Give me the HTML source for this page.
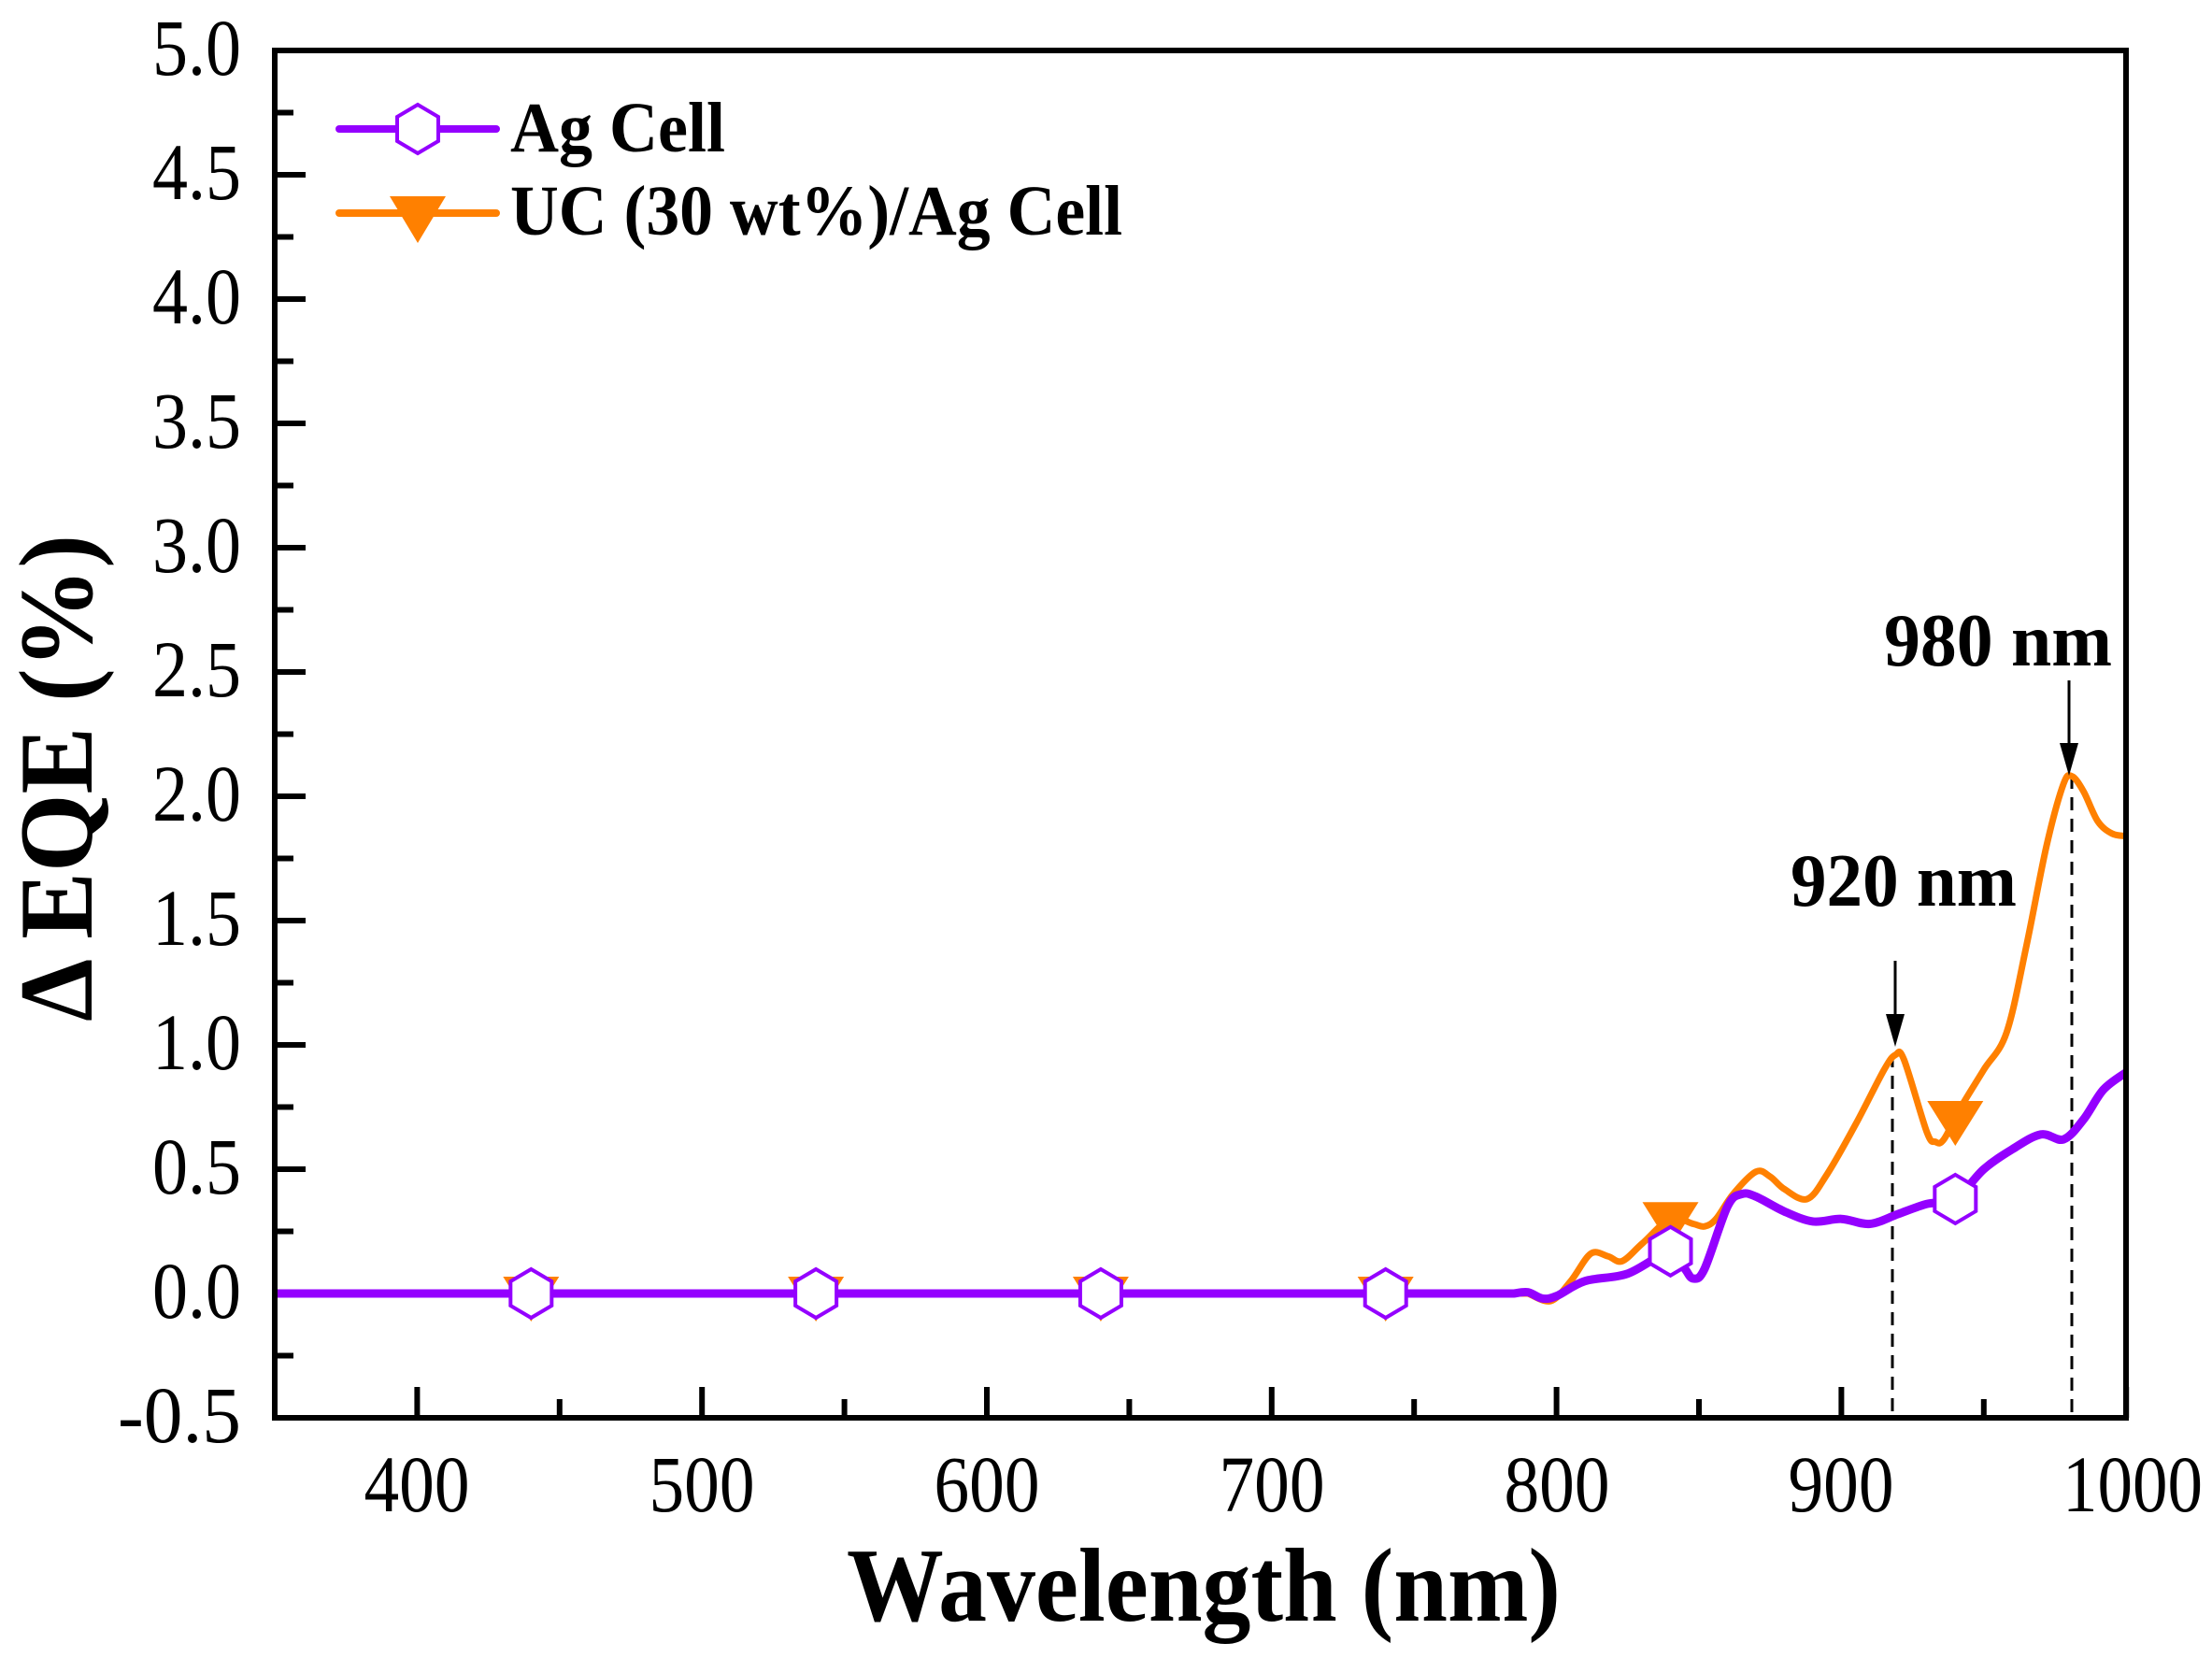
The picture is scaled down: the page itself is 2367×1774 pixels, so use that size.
<!DOCTYPE html>
<html><head><meta charset="utf-8"><style>
html,body{margin:0;padding:0;background:#fff;}
svg{display:block;}
text{font-family:"Liberation Serif",serif;fill:#000;}
.t{font-size:86px;}
.b{font-weight:bold;}
</style></head><body>
<svg id="s" width="2367" height="1774" viewBox="0 0 2367 1774" xmlns="http://www.w3.org/2000/svg">
<g id="ticks" stroke="#000" stroke-width="6"></g>
<line x1="2025" y1="1128" x2="2025" y2="1517" stroke="#000" stroke-width="3" stroke-dasharray="14,9"/>
<line x1="2217" y1="830" x2="2217" y2="1517" stroke="#000" stroke-width="3" stroke-dasharray="14,9"/>
<path id="po" fill="none" stroke="#ff8000" stroke-width="7" stroke-linejoin="round"/>
<path id="pp" fill="none" stroke="#9400ff" stroke-width="9" stroke-linejoin="round"/>
<g id="mk"></g>
<rect x="294" y="54" width="1981" height="1463" fill="none" stroke="#000" stroke-width="6"/>
<line x1="2028" y1="1028" x2="2028" y2="1090" stroke="#000" stroke-width="3"/>
<polygon points="2018,1085 2038,1085 2028,1120" fill="#000"/>
<line x1="2214" y1="728" x2="2214" y2="800" stroke="#000" stroke-width="3"/>
<polygon points="2204,795 2224,795 2214,830" fill="#000"/>
<text class="b" x="2016" y="712" font-size="80" textLength="244" lengthAdjust="spacingAndGlyphs">980 nm</text>
<text class="b" x="1916" y="969" font-size="80" textLength="242" lengthAdjust="spacingAndGlyphs">920 nm</text>
<g class="t" text-anchor="end">
<text x="258" y="1543" textLength="132" lengthAdjust="spacingAndGlyphs">-0.5</text>
<text x="258" y="1410" textLength="95" lengthAdjust="spacingAndGlyphs">0.0</text>
<text x="258" y="1277" textLength="95" lengthAdjust="spacingAndGlyphs">0.5</text>
<text x="258" y="1144" textLength="95" lengthAdjust="spacingAndGlyphs">1.0</text>
<text x="258" y="1011" textLength="95" lengthAdjust="spacingAndGlyphs">1.5</text>
<text x="258" y="878" textLength="95" lengthAdjust="spacingAndGlyphs">2.0</text>
<text x="258" y="745" textLength="95" lengthAdjust="spacingAndGlyphs">2.5</text>
<text x="258" y="612" textLength="95" lengthAdjust="spacingAndGlyphs">3.0</text>
<text x="258" y="479" textLength="95" lengthAdjust="spacingAndGlyphs">3.5</text>
<text x="258" y="346" textLength="95" lengthAdjust="spacingAndGlyphs">4.0</text>
<text x="258" y="213" textLength="95" lengthAdjust="spacingAndGlyphs">4.5</text>
<text x="258" y="80" textLength="95" lengthAdjust="spacingAndGlyphs">5.0</text>
</g>
<g class="t" text-anchor="middle">
<text x="446" y="1617" textLength="113" lengthAdjust="spacingAndGlyphs">400</text>
<text x="751" y="1617" textLength="113" lengthAdjust="spacingAndGlyphs">500</text>
<text x="1056" y="1617" textLength="113" lengthAdjust="spacingAndGlyphs">600</text>
<text x="1361" y="1617" textLength="113" lengthAdjust="spacingAndGlyphs">700</text>
<text x="1666" y="1617" textLength="113" lengthAdjust="spacingAndGlyphs">800</text>
<text x="1970" y="1617" textLength="113" lengthAdjust="spacingAndGlyphs">900</text>
<text x="2282" y="1617" textLength="150" lengthAdjust="spacingAndGlyphs">1000</text>
</g>
<text class="b" x="906" y="1734" font-size="112" textLength="764" lengthAdjust="spacingAndGlyphs">Wavelength (nm)</text>
<text class="b" transform="translate(98,1093) rotate(-90)" font-size="112" textLength="521" lengthAdjust="spacingAndGlyphs">Δ EQE (%)</text>
<line x1="363" y1="138" x2="531" y2="138" stroke="#9400ff" stroke-width="8" stroke-linecap="round"/>
<polygon points="447,112 469,125 469,151 447,164 425,151 425,125" fill="#fff" stroke="#9400ff" stroke-width="4"/>
<line x1="363" y1="228" x2="531" y2="228" stroke="#ff8000" stroke-width="8" stroke-linecap="round"/>
<polygon points="417,210 477,210 447,260" fill="#ff8000"/>
<text class="b" x="546" y="162" font-size="76" textLength="230" lengthAdjust="spacingAndGlyphs">Ag Cell</text>
<text class="b" x="546" y="251" font-size="76" textLength="655" lengthAdjust="spacingAndGlyphs">UC (30 wt%)/Ag Cell</text>
</svg>
<script>
var X=function(n){return 294+(n-350)*3.048;},Y=function(v){return 1384-266*v;};
var t='';
for(var n=400;n<=1000;n+=100)t+='<line x1="'+X(n)+'" y1="1517" x2="'+X(n)+'" y2="1484"/>';
for(var n=450;n<1000;n+=100)t+='<line x1="'+X(n)+'" y1="1517" x2="'+X(n)+'" y2="1497"/>';
for(var v=-0.5;v<=5.01;v+=0.5)t+='<line x1="294" y1="'+Y(v)+'" x2="327" y2="'+Y(v)+'"/>';
for(var v=-0.25;v<5;v+=0.5)t+='<line x1="294" y1="'+Y(v)+'" x2="314" y2="'+Y(v)+'"/>';
document.getElementById('ticks').innerHTML=t;
var P=[[350,0],[785,0],[790,0.005],[795,-0.02],[800,-0.01],[810,0.05],[825,0.08],[840,0.17],[845,0.1],[848,0.06],[852,0.1],[860,0.35],[865,0.4],[870,0.39],[880,0.33],[890,0.29],[900,0.3],[910,0.28],[920,0.32],[930,0.36],[940,0.38],[950,0.5],[960,0.58],[970,0.64],[978,0.62],[985,0.7],[992,0.82],[1000,0.89]];
var O=[[350,0],[790,0],[798,-0.03],[805,0.05],[812,0.16],[818,0.15],[823,0.13],[830,0.2],[840,0.3],[848,0.28],[852,0.27],[856,0.3],[862,0.4],[870,0.49],[875,0.47],[880,0.42],[888,0.38],[895,0.48],[905,0.68],[915,0.9],[919,0.96],[922,0.94],[930,0.65],[933,0.61],[936,0.62],[942,0.75],[950,0.9],[958,1.05],[965,1.4],[972,1.8],[978,2.05],[981,2.08],[985,2.02],[990,1.9],[995,1.85],[1000,1.84]];
function d(a){var p=a.map(function(q){return [X(q[0]),Y(q[1])];});var s='M'+p[0][0]+','+p[0][1]+'L'+p[1][0]+','+p[1][1];
for(var i=1;i<p.length-1;i++){var p0=(i>1)?p[i-1]:p[i],p1=p[i],p2=p[i+1],p3=p[i+2]||p2;
s+='C'+(p1[0]+(p2[0]-p0[0])/6).toFixed(1)+','+(p1[1]+(p2[1]-p0[1])/6).toFixed(1)+' '+(p2[0]-(p3[0]-p1[0])/6).toFixed(1)+','+(p2[1]-(p3[1]-p1[1])/6).toFixed(1)+' '+p2[0].toFixed(1)+','+p2[1].toFixed(1);}
return s;}
document.getElementById('pp').setAttribute('d',d(P));
document.getElementById('po').setAttribute('d',d(O));
function at(a,n){for(var i=1;i<a.length;i++)if(a[i][0]>=n){var p=a[i-1],q=a[i];return p[1]+(q[1]-p[1])*(n-p[0])/(q[0]-p[0]);}return 0;}
var m='';
[440,540,640,740,840,940].forEach(function(n){var x=X(n),yo=Y(at(O,n));
m+='<polygon points="'+(x-30)+','+(yo-18)+' '+(x+30)+','+(yo-18)+' '+x+','+(yo+30)+'" fill="#ff8000"/>';});
[440,540,640,740,840,940].forEach(function(n){var x=X(n),y=Y(at(P,n));
m+='<polygon points="'+x+','+(y-26)+' '+(x+22)+','+(y-13)+' '+(x+22)+','+(y+13)+' '+x+','+(y+26)+' '+(x-22)+','+(y+13)+' '+(x-22)+','+(y-13)+'" fill="#fff" stroke="#9400ff" stroke-width="4"/>';});
document.getElementById('mk').innerHTML=m;
</script>
</body></html>
